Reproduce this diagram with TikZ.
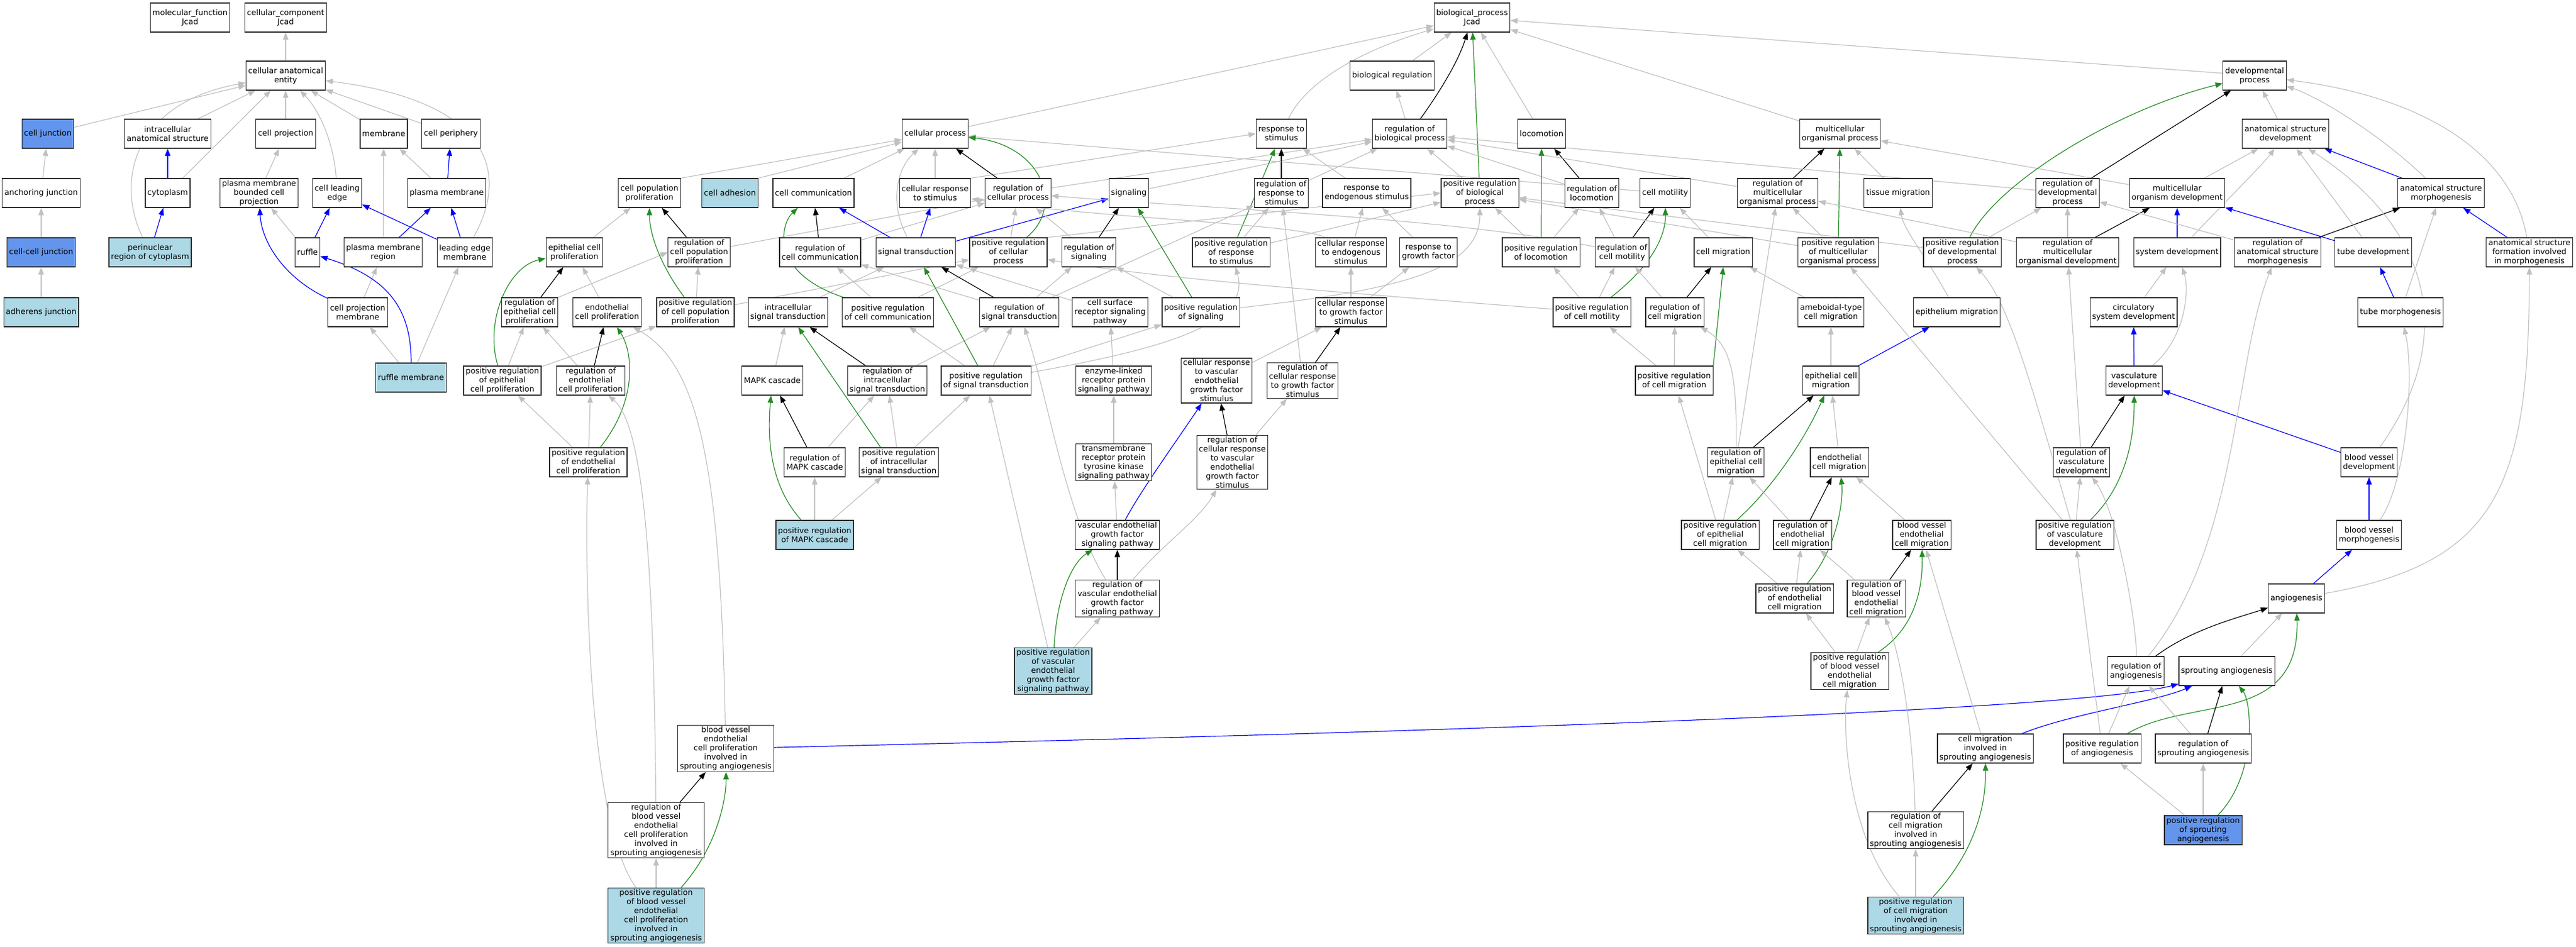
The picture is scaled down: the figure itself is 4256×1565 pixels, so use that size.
\documentclass[tikz,border=0pt]{standalone}
\usepackage{fontspec}
\setmainfont{DejaVu Sans}
\usetikzlibrary{arrows.meta}
\pgfdeclarelayer{edges}
\pgfsetlayers{edges,main}
\definecolor{lblue}{HTML}{ADD8E6}
\definecolor{cblue}{HTML}{6495ED}
\definecolor{egray}{HTML}{C0C0C0}
\definecolor{egreen}{HTML}{228B22}
\definecolor{eblue}{HTML}{0000FF}
\definecolor{nborder}{HTML}{2A2A2A}
\begin{document}
\begin{tikzpicture}[x=1pt,y=-1pt,
  gn/.style={draw=nborder, line width=1.2pt, fill=white, align=center, inner xsep=3.5pt, inner ysep=2pt, minimum height=48pt, font=\fontsize{13}{15}\selectfont},
  lb/.style={fill=lblue}, cb/.style={fill=cblue},
  edgebase/.style={line width=1.2pt, -{Triangle[length=12pt,width=9pt]}},
  isa/.style={edgebase, draw=egray, color=egray},
  reg/.style={edgebase, draw=black, color=black},
  preg/.style={edgebase, draw=egreen, color=egreen},
  partof/.style={edgebase, draw=eblue, color=eblue}]
\useasboundingbox (0,0) rectangle (4256,1565);
% Row A
\node[gn] (mf) at (314,29) {molecular\_function\\Jcad};
\node[gn] (cc) at (472,29) {cellular\_component\\Jcad};
\node[gn] (bp) at (2432,29) {biological\_process\\Jcad};
% Row B
\node[gn] (cae) at (472,125) {cellular anatomical\\entity};
\node[gn] (breg) at (2300,125) {biological regulation};
\node[gn] (devp) at (3725,125) {developmental\\process};
% Row C
\node[gn,cb] (cj) at (79,221) {cell junction};
\node[gn] (ias) at (277,221) {intracellular\\anatomical structure};
\node[gn] (cproj) at (472,221) {cell projection};
\node[gn] (memb) at (634,221) {membrane};
\node[gn] (cper) at (745,221) {cell periphery};
\node[gn] (cproc) at (1545,221) {cellular process};
\node[gn] (resp) at (2117,221) {response to\\stimulus};
\node[gn] (regbp) at (2329,221) {regulation of\\biological process};
\node[gn] (loco) at (2547,221) {locomotion};
\node[gn] (morg) at (3040,221) {multicellular\\organismal process};
\node[gn] (asd) at (3776,221) {anatomical structure\\development};
% Row D
\node[gn] (anj) at (68,319) {anchoring junction};
\node[gn] (cyto) at (277,319) {cytoplasm};
\node[gn] (pmbcp) at (428,319) {plasma membrane\\bounded cell\\projection};
\node[gn] (cle) at (557,319) {cell leading\\edge};
\node[gn] (pm) at (738,319) {plasma membrane};
\node[gn] (cpp) at (1073,319) {cell population\\proliferation};
\node[gn,lb] (cadh) at (1206,319) {cell adhesion};
\node[gn] (ccom) at (1344,319) {cell communication};
\node[gn] (crs) at (1545,319) {cellular response\\to stimulus};
\node[gn] (rcp) at (1682,319) {regulation of\\cellular process};
\node[gn] (sig) at (1865,319) {signaling};
\node[gn] (rrs) at (2117,319) {regulation of\\response to\\stimulus};
\node[gn] (res) at (2258,319) {response to\\endogenous stimulus};
\node[gn] (prbp) at (2445,319) {positive regulation\\of biological\\process};
\node[gn] (rloc) at (2630,319) {regulation of\\locomotion};
\node[gn] (cmot) at (2751,319) {cell motility};
\node[gn] (rmop) at (2937,319) {regulation of\\multicellular\\organismal process};
\node[gn] (tmig) at (3136,319) {tissue migration};
\node[gn] (rdp) at (3416,319) {regulation of\\developmental\\process};
\node[gn] (mod) at (3597,319) {multicellular\\organism development};
\node[gn] (asm) at (4033,319) {anatomical structure\\morphogenesis};
% Row E
\node[gn,cb] (ccj) at (68,417) {cell-cell junction};
\node[gn,lb] (peri) at (248,417) {perinuclear\\region of cytoplasm};
\node[gn] (ruf) at (508,417) {ruffle};
\node[gn] (pmr) at (633,417) {plasma membrane\\region};
\node[gn] (lem) at (768,417) {leading edge\\membrane};
\node[gn] (ecp) at (949,417) {epithelial cell\\proliferation};
\node[gn] (rcpp) at (1155,417) {regulation of\\cell population\\proliferation};
\node[gn] (rcc) at (1355,417) {regulation of\\cell communication};
\node[gn] (st) at (1513,417) {signal transduction};
\node[gn] (prcp) at (1666,417) {positive regulation\\of cellular\\process};
\node[gn] (rsig) at (1799,417) {regulation of\\signaling};
\node[gn] (prrs) at (2034,417) {positive regulation\\of response\\to stimulus};
\node[gn] (cres) at (2232,417) {cellular response\\to endogenous\\stimulus};
\node[gn] (rgf) at (2360,417) {response to\\growth factor};
\node[gn] (prloc) at (2546,417) {positive regulation\\of locomotion};
\node[gn] (rcmot) at (2680,417) {regulation of\\cell motility};
\node[gn] (cmig) at (2847,417) {cell migration};
\node[gn] (prmop) at (3037,417) {positive regulation\\of multicellular\\organismal process};
\node[gn] (prdp) at (3242,417) {positive regulation\\of developmental\\process};
\node[gn] (rmod) at (3416,417) {regulation of\\multicellular\\organismal development};
\node[gn] (sysd) at (3597,417) {system development};
\node[gn] (rasm) at (3763,417) {regulation of\\anatomical structure\\morphogenesis};
\node[gn] (tubd) at (3921,417) {tube development};
\node[gn] (asf) at (4179,417) {anatomical structure\\formation involved\\in morphogenesis};
% Row F
\node[gn,lb] (adj) at (68,516) {adherens junction};
\node[gn] (cpm) at (591,516) {cell projection\\membrane};
\node[gn] (recp) at (875,516) {regulation of\\epithelial cell\\proliferation};
\node[gn] (endp) at (1003,516) {endothelial\\cell proliferation};
\node[gn] (prcpp) at (1149,516) {positive regulation\\of cell population\\proliferation};
\node[gn] (ist) at (1302,516) {intracellular\\signal transduction};
\node[gn] (prcc) at (1467,516) {positive regulation\\of cell communication};
\node[gn] (rst) at (1684,516) {regulation of\\signal transduction};
\node[gn] (csr) at (1834,516) {cell surface\\receptor signaling\\pathway};
\node[gn] (prsig) at (1984,516) {positive regulation\\of signaling};
\node[gn] (crgf) at (2232,516) {cellular response\\to growth factor\\stimulus};
\node[gn] (prcmot) at (2630,516) {positive regulation\\of cell motility};
\node[gn] (rcmig) at (2767,516) {regulation of\\cell migration};
\node[gn] (amig) at (3025,516) {ameboidal-type\\cell migration};
\node[gn] (epim) at (3233,516) {epithelium migration};
\node[gn] (csd) at (3525,516) {circulatory\\system development};
\node[gn] (tubm) at (3966,516) {tube morphogenesis};
% Row G
\node[gn,lb] (rufm) at (679,624) {ruffle membrane};
\node[gn] (prepp) at (830,629) {positive regulation\\of epithelial\\cell proliferation};
\node[gn] (renp) at (976,629) {regulation of\\endothelial\\cell proliferation};
\node[gn] (mapk) at (1276,629) {MAPK cascade};
\node[gn] (rist) at (1466,629) {regulation of\\intracellular\\signal transduction};
\node[gn] (prst) at (1629,629) {positive regulation\\of signal transduction};
\node[gn] (elr) at (1840,629) {enzyme-linked\\receptor protein\\signaling pathway};
\node[gn] (crv) at (2010,629) {cellular response\\to vascular\\endothelial\\growth factor\\stimulus};
\node[gn] (rcrgf) at (2152,629) {regulation of\\cellular response\\to growth factor\\stimulus};
\node[gn] (prcmig) at (2766,629) {positive regulation\\of cell migration};
\node[gn] (ecmig) at (3025,629) {epithelial cell\\migration};
\node[gn] (vasd) at (3526,629) {vasculature\\development};
% Row H
\node[gn] (prenp) at (972,764) {positive regulation\\of endothelial\\cell proliferation};
\node[gn] (rmapk) at (1346,764) {regulation of\\MAPK cascade};
\node[gn] (prist) at (1485,764) {positive regulation\\of intracellular\\signal transduction};
\node[gn] (trptk) at (1840,764) {transmembrane\\receptor protein\\tyrosine kinase\\signaling pathway};
\node[gn] (rcrv) at (2036,764) {regulation of\\cellular response\\to vascular\\endothelial\\growth factor\\stimulus};
\node[gn] (recm) at (2868,764) {regulation of\\epithelial cell\\migration};
\node[gn] (encm) at (3039,764) {endothelial\\cell migration};
\node[gn] (rvasd) at (3439,764) {regulation of\\vasculature\\development};
\node[gn] (bvd) at (3914,764) {blood vessel\\development};
% Row I
\node[gn,lb] (prmapk) at (1346,884) {positive regulation\\of MAPK cascade};
\node[gn] (vegf) at (1846,884) {vascular endothelial\\growth factor\\signaling pathway};
\node[gn] (precm) at (2842,884) {positive regulation\\of epithelial\\cell migration};
\node[gn] (rencm) at (2978,884) {regulation of\\endothelial\\cell migration};
\node[gn] (bvecm) at (3175,884) {blood vessel\\endothelial\\cell migration};
\node[gn] (prvasd) at (3428,884) {positive regulation\\of vasculature\\development};
\node[gn] (bvm) at (3914,884) {blood vessel\\morphogenesis};
% Row J
\node[gn] (rvegf) at (1846,989) {regulation of\\vascular endothelial\\growth factor\\signaling pathway};
\node[gn] (prencm) at (2965,989) {positive regulation\\of endothelial\\cell migration};
\node[gn] (rbvecm) at (3100,989) {regulation of\\blood vessel\\endothelial\\cell migration};
\node[gn] (ang) at (3794,989) {angiogenesis};
% Row K
\node[gn,lb] (prvegf) at (1740,1109) {positive regulation\\of vascular\\endothelial\\growth factor\\signaling pathway};
\node[gn] (prbvecm) at (3056,1109) {positive regulation\\of blood vessel\\endothelial\\cell migration};
\node[gn] (rang) at (3529,1109) {regulation of\\angiogenesis};
\node[gn] (spa) at (3679,1109) {sprouting angiogenesis};
% Row L
\node[gn] (bvecp) at (1199,1237) {blood vessel\\endothelial\\cell proliferation\\involved in\\sprouting angiogenesis};
\node[gn] (cmisa) at (3280,1237) {cell migration\\involved in\\sprouting angiogenesis};
\node[gn] (prang) at (3473,1237) {positive regulation\\of angiogenesis};
\node[gn] (rspa) at (3640,1237) {regulation of\\sprouting angiogenesis};
% Row M
\node[gn] (rbvecp) at (1084,1372) {regulation of\\blood vessel\\endothelial\\cell proliferation\\involved in\\sprouting angiogenesis};
\node[gn] (rcmisa) at (3165,1372) {regulation of\\cell migration\\involved in\\sprouting angiogenesis};
\node[gn,cb] (prspa) at (3640,1372) {positive regulation\\of sprouting\\angiogenesis};
% Row N
\node[gn,lb] (prbvecp) at (1084,1513) {positive regulation\\of blood vessel\\endothelial\\cell proliferation\\involved in\\sprouting angiogenesis};
\node[gn,lb] (prcmisa) at (3165,1513) {positive regulation\\of cell migration\\involved in\\sprouting angiogenesis};

\begin{pgfonlayer}{edges}
% cellular component
\draw[isa] (cae) -- (cc);
\draw[isa] (cj) -- (cae);
\draw[isa] (ias) -- (cae);
\draw[isa] (cproj) -- (cae);
\draw[isa] (memb) -- (cae);
\draw[isa] (cper) -- (cae);
\draw[isa] (cyto) -- (cae);
\draw[isa] (peri) .. controls (190,300) and (220,170) .. (cae);
\draw[isa] (cle) .. controls (552,240) and (530,185) .. (cae);
\draw[isa] (lem) .. controls (835,300) and (830,170) .. (cae);
\draw[isa] (anj) -- (cj);
\draw[isa] (ccj) -- (anj);
\draw[isa] (adj) -- (ccj);
\draw[isa] (pmbcp) -- (cproj);
\draw[isa] (pm) -- (memb);
\draw[isa] (pmr) -- (memb);
\draw[isa] (ruf) -- (pmbcp);
\draw[isa] (cpm) -- (pmr);
\draw[isa] (rufm) -- (cpm);
\draw[isa] (rufm) -- (lem);
\draw[partof] (cyto) -- (ias);
\draw[partof] (peri) -- (cyto);
\draw[partof] (pm) -- (cper);
\draw[partof] (ruf) -- (cle);
\draw[partof] (pmr) -- (pm);
\draw[partof] (lem) -- (cle);
\draw[partof] (lem) -- (pm);
\draw[partof] (cpm) .. controls (470,460) and (432,400) .. (pmbcp);
\draw[partof] (rufm) .. controls (680,500) and (630,455) .. (ruf);
% biological process top
\draw[isa] (breg) -- (bp);
\draw[reg] (regbp) .. controls (2380,150) and (2410,100) .. (bp);
\draw[isa] (regbp) -- (breg);
\draw[preg] (prbp) -- (bp);
\draw[isa] (prbp) -- (regbp);
\draw[isa] (cproc) -- (bp);
\draw[isa] (resp) .. controls (2160,130) and (2260,80) .. (bp);
\draw[isa] (loco) -- (bp);
\draw[isa] (morg) -- (bp);
\draw[isa] (devp) -- (bp);
% row D
\draw[isa] (cpp.north east) -- (cproc);
\draw[isa] (cadh.north east) -- (cproc);
\draw[isa] (ccom) -- (cproc);
\draw[isa] (crs) -- (cproc);
\draw[isa] (crs.north east) -- (resp.west);
\draw[reg] (rcp) -- (cproc);
\draw[isa] (rcp) -- (regbp);
\draw[isa] (sig) -- (regbp);
\draw[reg] (rrs) -- (resp);
\draw[isa] (rrs) -- (regbp);
\draw[isa] (res) -- (resp);
\draw[reg] (rloc) -- (loco);
\draw[isa] (rloc) -- (regbp);
\draw[isa] (cmot) -- (cproc);
\draw[reg] (rmop) -- (morg);
\draw[isa] (rmop) -- (regbp);
\draw[isa] (tmig) -- (morg);
\draw[reg] (rdp) -- (devp);
\draw[isa] (rdp) -- (regbp);
\draw[isa] (mod) -- (morg);
\draw[isa] (mod) -- (asd);
\draw[isa] (asd) -- (devp);
\draw[partof] (asm) -- (asd);
\draw[isa] (asm) .. controls (3930,220) and (3830,160) .. (devp);
% row E
\draw[isa] (ecp) -- (cpp);
\draw[reg] (rcpp) -- (cpp);
\draw[isa] (rcpp) -- (rcp);
\draw[reg] (rcc) -- (ccom);
\draw[isa] (rcc) -- (rcp);
\draw[isa] (st) .. controls (1470,340) and (1480,280) .. (cproc);
\draw[partof] (st) -- (ccom);
\draw[partof] (st) -- (crs);
\draw[partof] (st) -- (sig);
\draw[isa] (prcp) -- (rcp);
\draw[preg] (prcp) .. controls (1760,340) and (1720,240) .. (cproc);
\draw[isa] (prcp.north east) -- (prbp.west);
\draw[reg] (rsig) -- (sig);
\draw[isa] (rsig) -- (rcp);
\draw[preg] (prrs) -- (resp);
\draw[isa] (prrs) -- (rrs);
\draw[isa] (prrs) -- (prbp);
\draw[isa] (cres) -- (res);
\draw[isa] (cres) .. controls (2150,370) and (1800,360) .. (crs);
\draw[isa] (rgf) -- (res);
\draw[preg] (prloc) -- (loco);
\draw[isa] (prloc) -- (rloc);
\draw[isa] (prloc) -- (prbp);
\draw[reg] (rcmot) -- (cmot);
\draw[isa] (rcmot) -- (rloc);
\draw[isa] (rcmot) .. controls (2400,360) and (2000,345) .. (rcp);
\draw[isa] (cmig) -- (cmot);
\draw[preg] (prmop) -- (morg);
\draw[isa] (prmop) -- (rmop);
\draw[isa] (prmop) -- (prbp);
\draw[preg] (prdp) .. controls (3300,300) and (3500,180) .. (devp);
\draw[isa] (prdp) -- (rdp);
\draw[isa] (prdp) -- (prbp);
\draw[isa] (rmod) -- (rdp);
\draw[reg] (rmod) -- (mod);
\draw[isa] (rmod) -- (rmop);
\draw[partof] (sysd) -- (mod);
\draw[isa] (sysd) .. controls (3680,330) and (3740,270) .. (asd);
\draw[isa] (rasm) -- (rdp);
\draw[reg] (rasm) -- (asm);
\draw[partof] (tubd) -- (mod);
\draw[isa] (tubd) -- (asd);
\draw[partof] (asf) -- (asm);
\draw[isa] (asf) .. controls (4150,250) and (4000,160) .. (devp);
% row F
\draw[reg] (recp) -- (ecp);
\draw[isa] (recp.north east) -- (rcpp.west);
\draw[isa] (endp) -- (ecp);
\draw[preg] (prcpp) .. controls (1085,430) and (1073,380) .. (cpp);
\draw[isa] (prcpp) -- (rcpp);
\draw[isa] (prcpp) -- (prcp);
\draw[isa] (ist) -- (st);
\draw[preg] (prcc) .. controls (1270,450) and (1290,370) .. (ccom);
\draw[isa] (prcc) -- (rcc);
\draw[isa] (prcc) -- (prcp);
\draw[reg] (rst) -- (st);
\draw[isa] (rst) -- (rsig);
\draw[isa] (rst) -- (rcc);
\draw[isa] (rst) -- (rrs);
\draw[isa] (csr) -- (st);
\draw[preg] (prsig) -- (sig);
\draw[isa] (prsig) -- (rsig);
\draw[isa] (prsig) .. controls (2300,480) and (2445,450) .. (prbp);
\draw[isa] (crgf) -- (cres);
\draw[isa] (crgf) -- (rgf);
\draw[preg] (prcmot) .. controls (2740,430) and (2752,380) .. (cmot);
\draw[isa] (prcmot) -- (rcmot);
\draw[isa] (prcmot) -- (prloc);
\draw[isa] (prcmot) .. controls (2300,490) and (1900,460) .. (prcp);
\draw[reg] (rcmig) -- (cmig);
\draw[isa] (rcmig) -- (rcmot);
\draw[isa] (amig) -- (cmig);
\draw[isa] (epim) .. controls (3180,420) and (3145,380) .. (tmig);
\draw[isa] (csd) -- (sysd);
\draw[partof] (tubm) -- (tubd);
\draw[isa] (tubm) -- (asm);
% row G
\draw[preg] (prepp) .. controls (800,530) and (840,440) .. (ecp);
\draw[isa] (prepp) -- (recp);
\draw[isa] (prepp) -- (prcpp);
\draw[reg] (renp) -- (endp);
\draw[isa] (renp) -- (recp);
\draw[isa] (mapk) -- (ist);
\draw[reg] (rist) -- (ist);
\draw[isa] (rist) -- (rst);
\draw[isa] (prst) -- (rst);
\draw[isa] (prst) -- (prcc);
\draw[isa] (prst) -- (prsig);
\draw[isa] (prst) .. controls (1900,580) and (2070,540) .. (prrs);
\draw[preg] (prst) -- (st);
\draw[isa] (elr) -- (csr);
\draw[isa] (crv) -- (crgf);
\draw[reg] (rcrgf) -- (crgf);
\draw[isa] (rcrgf) -- (rrs);
\draw[preg] (prcmig.north east) -- (cmig.south);
\draw[isa] (prcmig) -- (rcmig);
\draw[isa] (prcmig) -- (prcmot);
\draw[isa] (ecmig) -- (amig);
\draw[partof] (ecmig) -- (epim);
\draw[partof] (vasd) -- (csd);
\draw[isa] (vasd) .. controls (3610,560) and (3618,480) .. (sysd);
% row H
\draw[preg] (prenp) .. controls (1055,660) and (1045,580) .. (endp);
\draw[isa] (prenp) -- (renp);
\draw[isa] (prenp) -- (prepp);
\draw[reg] (rmapk) -- (mapk);
\draw[isa] (rmapk) -- (rist);
\draw[preg] ([xshift=-30pt]prist.north) -- (ist);
\draw[isa] (prist) -- (rist);
\draw[isa] (prist) -- (prst);
\draw[isa] (trptk) -- (elr);
\draw[reg] (rcrv) -- (crv);
\draw[isa] (rcrv) -- (rcrgf);
\draw[reg] (recm) -- (ecmig);
\draw[isa] (recm) .. controls (2870,620) and (2860,570) .. (rcmig);
\draw[isa] (recm) -- (rmop);
\draw[isa] (encm) -- (ecmig);
\draw[reg] (rvasd) -- (vasd);
\draw[isa] (rvasd) -- (rmod);
\draw[partof] (bvd) -- (vasd);
\draw[isa] (bvd) .. controls (4060,560) and (4020,380) .. (asd);
% row I
\draw[preg] (prmapk) .. controls (1270,800) and (1268,720) .. (mapk);
\draw[isa] (prmapk) -- (rmapk);
\draw[isa] (prmapk) -- (prist);
\draw[isa] (vegf) -- (trptk);
\draw[partof] (vegf) .. controls (1885,810) and (1950,720) .. (crv);
\draw[preg] (precm) .. controls (2925,810) and (2980,730) .. (ecmig);
\draw[isa] (precm) -- (recm);
\draw[isa] (precm) -- (prcmig);
\draw[reg] (rencm) -- (encm);
\draw[isa] (rencm) -- (recm);
\draw[isa] (bvecm) -- (encm);
\draw[preg] (prvasd) .. controls (3515,800) and (3526,720) .. (vasd);
\draw[isa] (prvasd) -- (rvasd);
\draw[isa] (prvasd) -- (prmop);
\draw[isa] (prvasd) .. controls (3360,650) and (3320,500) .. (prdp);
\draw[partof] (bvm) -- (bvd);
\draw[isa] (bvm) .. controls (3975,800) and (3990,620) .. (tubm);
% row J
\draw[reg] (rvegf) -- (vegf);
\draw[isa] (rvegf) .. controls (1920,900) and (1980,860) .. (rcrv);
\draw[isa] (rvegf) .. controls (1760,850) and (1730,650) .. (rst);
\draw[preg] (prencm) .. controls (3040,900) and (3045,820) .. (encm);
\draw[isa] (prencm) -- (rencm);
\draw[isa] (prencm) -- (precm);
\draw[reg] (rbvecm) -- (bvecm);
\draw[isa] (rbvecm) -- (rencm);
\draw[partof] (ang) -- (bvm);
\draw[isa] (ang) .. controls (4130,930) and (4178,800) .. (asf);
% row K
\draw[preg] (prvegf) .. controls (1745,990) and (1770,930) .. (vegf);
\draw[isa] (prvegf) -- (rvegf);
\draw[isa] (prvegf) -- (prst);
\draw[preg] (prbvecm) .. controls (3160,1040) and (3177,980) .. (bvecm);
\draw[isa] (prbvecm) -- (prencm);
\draw[isa] (prbvecm) -- (rbvecm);
\draw[reg] (rang) .. controls (3620,1040) and (3700,1020) .. (ang);
\draw[isa] (rang) .. controls (3700,900) and (3690,600) .. (rasm);
\draw[isa] (rang) .. controls (3531,1040) and (3500,850) .. (rvasd);
\draw[isa] (spa) -- (ang);
% row L
\draw[isa] (bvecp) .. controls (1190,750) and (1150,600) .. (endp);
\draw[partof] (bvecp) .. controls (2600,1205) and (3450,1170) .. (spa);
\draw[partof] (cmisa) .. controls (3420,1180) and (3560,1160) .. (spa);
\draw[isa] (cmisa) -- (bvecm);
\draw[preg] (prang) .. controls (3620,1150) and (3800,1200) .. (ang);
\draw[isa] (prang) -- (rang);
\draw[isa] (prang) -- (prvasd);
\draw[reg] (rspa) -- (spa);
\draw[isa] (rspa) -- (rang);
% row M
\draw[reg] (rbvecp) -- (bvecp);
\draw[isa] (rbvecp) .. controls (1080,900) and (1060,700) .. (renp);
\draw[reg] (rcmisa) -- (cmisa);
\draw[isa] (rcmisa) .. controls (3160,1200) and (3140,1080) .. (rbvecm);
\draw[isa] (prspa) -- (rspa);
\draw[isa] (prspa) -- (prang);
\draw[preg] (prspa) .. controls (3730,1280) and (3720,1160) .. (spa);
% row N
\draw[isa] (prbvecp) -- (rbvecp);
\draw[preg] (prbvecp) .. controls (1185,1400) and (1200,1320) .. (bvecp);
\draw[isa] (prbvecp) .. controls (967,1350) and (967,900) .. (prenp);
\draw[isa] (prcmisa) -- (rcmisa);
\draw[preg] (prcmisa) .. controls (3270,1400) and (3281,1320) .. (cmisa);
\draw[isa] (prcmisa) .. controls (3050,1380) and (3045,1200) .. (prbvecm);
\end{pgfonlayer}
\end{tikzpicture}
\end{document}
